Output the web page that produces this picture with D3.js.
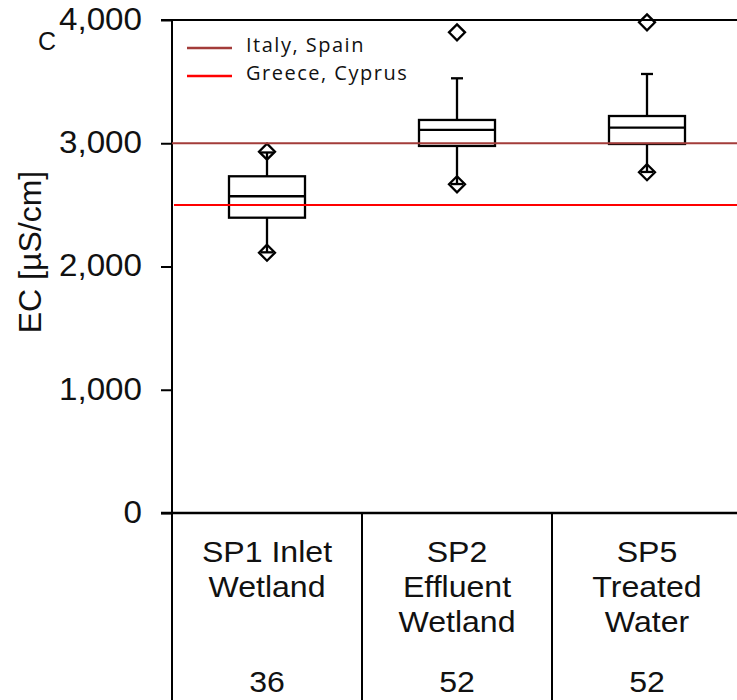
<!DOCTYPE html>
<html>
<head>
<meta charset="utf-8">
<script src="https://cdn.jsdelivr.net/npm/d3@7/dist/d3.min.js"></script>
<style>
  html, body { margin: 0; padding: 0; background: #fff; }
  svg { display: block; }
</style>
</head>
<body>
<svg id="chart" width="737" height="700"></svg>
<script>
// Sampling points along the treatment line
const categories = ["SP1", "SP2", "SP5"];
const categoryLines = [["SP1 Inlet", "Wetland"], ["SP2", "Effluent", "Wetland"], ["SP5", "Treated", "Water"]];
const sampleCounts = [36, 52, 52];

// Box statistics of electrical conductivity (µS/cm)
const q1Values = [2396, 2978, 2994];
const medianValues = [2570, 3108, 3126];
const q3Values = [2732, 3189, 3221];
const whiskerLow = [2115, 2669, 2767];
const whiskerHigh = [2925, 3527, 3562];
const outlierLow = [2112, 2667, 2765];
const outlierHigh = [2932, 3900, 3981];

// Irrigation reuse limits
const limitNames = ["Italy, Spain", "Greece, Cyprus"];
const limitValues = [3000, 2500];
const limitColors = ["#a33c3a", "#ff0000"];

const yTicks = [0, 1000, 2000, 3000, 4000];

const svg = d3.select("#chart");
const W = 737, H = 700;
const plotLeft = 172, plotTop = 20, plotBottom = 513;
const FONT = "Liberation Sans, Arial, sans-serif";
const stretch = 1.07; // slightly wide lettering

const y = d3.scaleLinear().domain([0, 4000]).range([plotBottom, plotTop]);
const x = d3.scaleBand().domain(categories).range([plotLeft, plotLeft + 570]).paddingInner(0).paddingOuter(0);
const boxW = x.bandwidth() * 0.4;
const capW = 12;

const stats = categories.map((c, i) => ({
  c, q1: q1Values[i], med: medianValues[i], q3: q3Values[i],
  lo: whiskerLow[i], hi: whiskerHigh[i],
  outs: [outlierLow[i], outlierHigh[i]]
}));

// Y axis ticks and labels
const yAxis = d3.axisLeft(y).tickValues(yTicks).tickFormat(d3.format(",")).tickSize(11).tickPadding(19);
const ga = svg.append("g").attr("transform", `translate(${plotLeft},0)`).call(yAxis);
ga.select(".domain").remove();
ga.selectAll(".tick line").attr("stroke", "#000").attr("stroke-width", 2);
ga.selectAll(".tick text")
  .attr("font-family", FONT)
  .attr("font-size", 31)
  .attr("fill", "#111")
  .attr("dy", "0.3em")
  .attr("x", -30 / stretch)
  .attr("transform", `scale(${stretch},1)`);

// Frame: top line, baseline, y axis line running into the table
svg.append("line").attr("x1", plotLeft - 11).attr("x2", W).attr("y1", y(4000)).attr("y2", y(4000))
  .attr("stroke", "#000").attr("stroke-width", 2);
svg.append("line").attr("x1", plotLeft - 11).attr("x2", W).attr("y1", y(0)).attr("y2", y(0))
  .attr("stroke", "#000").attr("stroke-width", 2.5);
svg.append("line").attr("x1", plotLeft).attr("x2", plotLeft).attr("y1", y(4000) - 1).attr("y2", H)
  .attr("stroke", "#000").attr("stroke-width", 2);

// Table column separators
categories.slice(1).forEach(c => {
  svg.append("line").attr("x1", x(c)).attr("x2", x(c)).attr("y1", y(0)).attr("y2", H)
    .attr("stroke", "#000").attr("stroke-width", 2);
});

// Category labels and sample counts
const tl = svg.append("g").attr("font-family", FONT).attr("fill", "#111")
  .attr("text-anchor", "middle");
function wideText(g, tx, ty, size, str) {
  g.append("text").attr("transform", `translate(${tx},${ty}) scale(${stretch},1)`)
    .attr("font-size", size).attr("xml:space", "preserve").text(str);
}
categories.forEach((c, i) => {
  const cx = x(c) + x.bandwidth() / 2;
  categoryLines[i].forEach((line, j) => wideText(tl, cx, 562 + j * 35, 30, line));
  wideText(tl, cx, 692, 30, sampleCounts[i]);
});

// Y axis title
svg.append("text")
  .attr("transform", `translate(41,252) rotate(-90)`)
  .attr("text-anchor", "middle")
  .attr("font-family", FONT)
  .attr("font-size", 32)
  .attr("fill", "#111")
  .text("EC [µS/cm]");

// Panel letter
svg.append("text").attr("x", 38).attr("y", 50)
  .attr("font-family", FONT).attr("font-size", 25).attr("fill", "#111")
  .text("C");

// Box plots
const gb = svg.append("g").attr("stroke", "#000").attr("stroke-width", 2.3);
stats.forEach(s => {
  const cx = x(s.c) + x.bandwidth() / 2;
  gb.append("line").attr("x1", cx).attr("x2", cx).attr("y1", y(s.q3)).attr("y2", y(s.hi));
  gb.append("line").attr("x1", cx).attr("x2", cx).attr("y1", y(s.q1)).attr("y2", y(s.lo));
  gb.append("line").attr("x1", cx - capW / 2).attr("x2", cx + capW / 2).attr("y1", y(s.hi)).attr("y2", y(s.hi));
  gb.append("line").attr("x1", cx - capW / 2).attr("x2", cx + capW / 2).attr("y1", y(s.lo)).attr("y2", y(s.lo));
  gb.append("rect").attr("x", cx - boxW / 2).attr("y", y(s.q3)).attr("width", boxW)
    .attr("height", y(s.q1) - y(s.q3)).attr("fill", "none");
  gb.append("line").attr("x1", cx - boxW / 2).attr("x2", cx + boxW / 2).attr("y1", y(s.med)).attr("y2", y(s.med));
  s.outs.forEach(v => {
    const cy = y(v), r = 8;
    gb.append("path")
      .attr("d", `M${cx},${cy - r}L${cx + r},${cy}L${cx},${cy + r}L${cx - r},${cy}Z`)
      .attr("fill", "none");
  });
});

// Reference limit lines
limitValues.forEach((v, i) => {
  svg.append("line").attr("x1", plotLeft + (i === 0 ? 0 : 2)).attr("x2", W).attr("y1", y(v)).attr("y2", y(v))
    .attr("stroke", limitColors[i]).attr("stroke-width", 2);
});

// Legend
const lg = svg.append("g");
limitNames.forEach((name, i) => {
  const ly = 48 + i * 28;
  lg.append("line").attr("x1", 187).attr("x2", 232).attr("y1", ly).attr("y2", ly)
    .attr("stroke", limitColors[i]).attr("stroke-width", 2.5);
  lg.append("text").attr("x", 246).attr("y", ly + 4)
    .attr("font-family", "Open Sans, sans-serif").attr("font-size", 20)
    .attr("letter-spacing", 1.5).attr("fill", "#111")
    .text(name);
});
</script>
</body>
</html>
